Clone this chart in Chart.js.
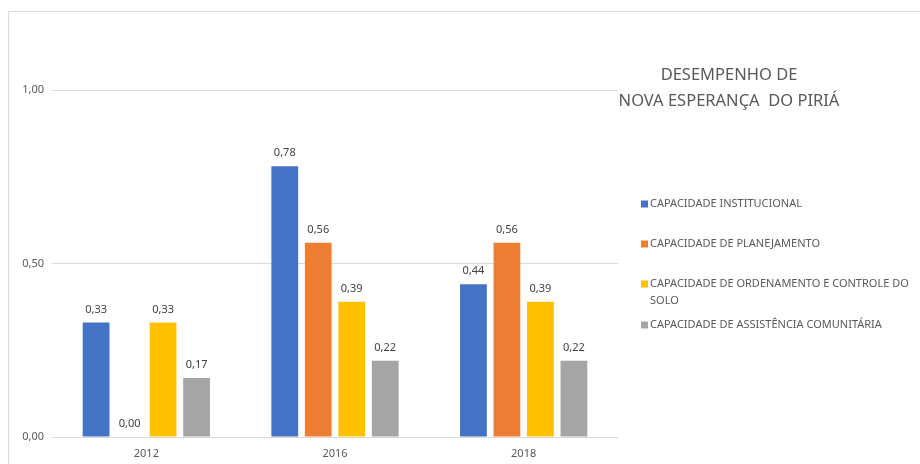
<!DOCTYPE html>
<html>
<head>
<meta charset="utf-8">
<script src="https://cdn.jsdelivr.net/npm/chart.js@4/dist/chart.umd.min.js"></script>
<style>
  html, body { margin: 0; padding: 0; background: #ffffff; }
  #wrap { position: relative; width: 920px; height: 464px; }
</style>
</head>
<body>
<div id="wrap"><canvas id="c" width="920" height="464"></canvas></div>
<script>
const categories = ['2012', '2016', '2018'];
const seriesNames = [
  'CAPACIDADE INSTITUCIONAL',
  'CAPACIDADE DE PLANEJAMENTO',
  'CAPACIDADE DE ORDENAMENTO E CONTROLE DO SOLO',
  'CAPACIDADE DE ASSISTÊNCIA COMUNITÁRIA'
];
const institucional = [0.33, 0.78, 0.44];
const planejamento  = [0.00, 0.56, 0.56];
const ordenamento   = [0.33, 0.39, 0.39];
const assistencia   = [0.17, 0.22, 0.22];
const yTicks = [0, 0.5, 1.0];
const titleLines = ['DESEMPENHO DE', 'NOVA ESPERANÇA  DO PIRIÁ'];
const colors = ['#4472C4', '#ED7D31', '#FFC000', '#A5A5A5'];

const fmt = v => v.toFixed(2).replace('.', ',');
const FONT = '"Noto Sans", "Open Sans", sans-serif';

const decor = {
  id: 'decor',
  beforeDraw(chart) {
    const ctx = chart.ctx;
    ctx.save();
    ctx.strokeStyle = '#d9d9d9';
    ctx.lineWidth = 1;
    ctx.beginPath();
    ctx.moveTo(8.5, 464);
    ctx.lineTo(8.5, 11.5);
    ctx.lineTo(920, 11.5);
    ctx.stroke();
    ctx.restore();
  },
  afterDatasetsDraw(chart) {
    const ctx = chart.ctx;
    ctx.save();
    ctx.fillStyle = '#404040';
    ctx.font = '11px ' + FONT;
    ctx.textAlign = 'center';
    ctx.textBaseline = 'middle';
    chart.data.datasets.forEach((ds, i) => {
      const meta = chart.getDatasetMeta(i);
      meta.data.forEach((el, j) => {
        ctx.fillText(fmt(ds.data[j]), el.x, el.y - 13);
      });
    });
    ctx.restore();
  },
  afterDraw(chart) {
    const ctx = chart.ctx;
    ctx.save();
    // title
    ctx.fillStyle = '#595959';
    ctx.font = '16.5px ' + FONT;
    ctx.textAlign = 'center';
    ctx.textBaseline = 'middle';
    titleLines.forEach((t, i) => ctx.fillText(t, 729, 75 + i * 26));
    // legend
    ctx.font = '11px ' + FONT;
    ctx.textAlign = 'left';
    const ys = [204, 244, 284, 325];
    const maxW = 272;
    chart.data.datasets.forEach((ds, i) => {
      const y = ys[i];
      ctx.fillStyle = ds.backgroundColor;
      ctx.fillRect(641, y - 3.5, 7, 7);
      ctx.fillStyle = '#595959';
      const words = ds.label.split(' ');
      let line = '';
      let ly = y;
      words.forEach(w => {
        const test = line ? line + ' ' + w : w;
        if (ctx.measureText(test).width > maxW && line) {
          ctx.fillText(line, 650, ly);
          line = w;
          ly += 17;
        } else {
          line = test;
        }
      });
      ctx.fillText(line, 650, ly);
    });
    ctx.restore();
  }
};

const datasetsData = [institucional, planejamento, ordenamento, assistencia];

new Chart(document.getElementById('c'), {
  type: 'bar',
  data: {
    labels: categories,
    datasets: datasetsData.map((d, i) => ({
      label: seriesNames[i],
      data: d,
      backgroundColor: colors[i],
      borderWidth: 0,
      categoryPercentage: 0.71,
      barPercentage: 0.8
    }))
  },
  options: {
    responsive: false,
    animation: false,
    layout: { padding: { left: 0, top: 90, right: 302, bottom: 0 } },
    plugins: {
      legend: { display: false },
      tooltip: { enabled: false },
      title: { display: false }
    },
    scales: {
      x: {
        grid: { display: false, drawTicks: false },
        border: { display: false },
        ticks: { color: '#595959', font: { family: FONT, size: 11 }, padding: 10 },
        afterFit(scale) { scale.height = 27; }
      },
      y: {
        min: 0, max: 1,
        afterBuildTicks(scale) { scale.ticks = yTicks.map(v => ({ value: v })); },
        grid: { color: '#d9d9d9', lineWidth: 1, drawTicks: false },
        border: { display: false },
        ticks: {
          color: '#595959',
          font: { family: FONT, size: 11 },
          padding: 8,
          callback: v => fmt(v)
        },
        afterFit(scale) { scale.width = 52; }
      }
    }
  },
  plugins: [decor]
});
</script>
</body>
</html>
